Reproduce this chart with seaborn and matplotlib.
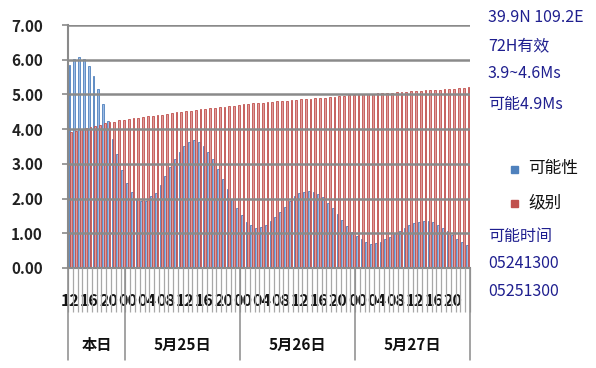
import numpy as np
import pandas as pd
import matplotlib
matplotlib.use("Agg")
import matplotlib.pyplot as plt
import seaborn as sns

# ---------------- data ----------------
days = ['本日', '5月25日', '5月26日', '5月27日']
day_hours = [12, 24, 24, 24]
tick_labels = ['12', '16', '20',
               '00', '04', '08', '12', '16', '20',
               '00', '04', '08', '12', '16', '20',
               '00', '04', '08', '12', '16', '20']
series_names = ['可能性', '级别']

prob = [5.85, 6.02, 6.07, 6.02, 5.83, 5.54, 5.16, 4.73, 4.24, 3.72, 3.28, 2.82, 2.46,
        2.20, 1.99, 1.92, 1.93, 2.06, 2.17, 2.39, 2.65, 2.92, 3.13, 3.35, 3.52, 3.64,
        3.69, 3.64, 3.52, 3.35, 3.13, 2.85, 2.55, 2.27, 1.98, 1.74, 1.52, 1.33,
        1.23, 1.16, 1.17, 1.24, 1.34, 1.48, 1.60, 1.77, 1.92, 2.06, 2.15,
        2.20, 2.22, 2.20, 2.13, 2.05, 1.88, 1.72, 1.55, 1.38, 1.21, 1.05, 0.91,
        0.83, 0.76, 0.70, 0.71, 0.76, 0.83, 0.90, 1.00, 1.07, 1.14, 1.24, 1.29,
        1.33, 1.35, 1.35, 1.32, 1.24, 1.14, 1.07, 0.95, 0.84, 0.74, 0.66]

level = [3.93, 3.95, 3.99, 4.04, 4.07, 4.09, 4.12, 4.17, 4.20, 4.22, 4.25, 4.27, 4.29,
         4.31, 4.33, 4.35, 4.37, 4.39, 4.40, 4.42, 4.44, 4.46, 4.48, 4.50, 4.51, 4.53,
         4.55, 4.57, 4.58, 4.60, 4.61, 4.63, 4.64, 4.66, 4.67, 4.69, 4.71, 4.73,
         4.74, 4.75, 4.76, 4.77, 4.78, 4.80, 4.81, 4.82, 4.83, 4.84, 4.86, 4.87,
         4.88, 4.89, 4.90, 4.91, 4.92, 4.93, 4.95, 4.96, 4.97, 4.98, 5.00,
         5.01, 5.01, 5.02, 5.03, 5.04, 5.05, 5.05, 5.06, 5.07, 5.08, 5.09, 5.10,
         5.11, 5.12, 5.13, 5.13, 5.14, 5.15, 5.16, 5.17, 5.18, 5.19, 5.20]

side_top = ['39.9N 109.2E', '72H有效', '3.9~4.6Ms', '可能4.9Ms']
side_bottom = ['可能时间', '05241300', '05251300']

# ---------------- styling ----------------
sns.set_theme(style='white')
plt.rcParams['font.family'] = ['Noto Sans CJK SC', 'DejaVu Sans']

n = len(prob)
idx = list(range(n))
df = pd.DataFrame({
    'idx': idx * 2,
    'value': prob + level,
    'series': [series_names[0]] * n + [series_names[1]] * n,
})

fig = plt.figure(figsize=(5.96, 3.68), dpi=100)
ax = fig.add_axes([68 / 596, 1 - 268 / 368, (470 - 68) / 596, (268 - 25) / 368])

sns.barplot(data=df, x='idx', y='value', hue='series', order=idx,
            hue_order=series_names,
            palette={series_names[0]: '#9DBBE3', series_names[1]: '#E09C9A'},
            width=0.74, ax=ax, legend=False, saturation=1)
edge = {0: '#4F81BD', 1: '#C0504D'}
for k, cont in enumerate(ax.containers):
    for p in cont:
        p.set_edgecolor(edge[k])
        p.set_linewidth(0.6)

ax.set_ylim(0, 7)
ax.set_xlim(-0.5, n - 0.5)
ax.set_xlabel('')
ax.set_ylabel('')

grid_c = '#8a8a8a'
ax.yaxis.grid(True, color=grid_c, linewidth=1.8)
ax.set_axisbelow(False)
for s in ['top', 'right']:
    ax.spines[s].set_visible(False)
for s in ['left', 'bottom']:
    ax.spines[s].set_color(grid_c)
    ax.spines[s].set_linewidth(1.5)

ax.set_yticks(range(0, 8))
ax.set_yticklabels([f'{v:.2f}' for v in range(0, 8)], fontsize=11, fontweight='bold',
                   color='#222222')
ax.tick_params(axis='y', which='major', length=4, color=grid_c, width=1.2,
               direction='out', pad=14, left=True)

# category ticks
label_pos = list(range(0, n, 4))
ax.set_xticks(label_pos)
ax.set_xticklabels(tick_labels, fontsize=11.5, fontweight='bold', color='#111111')
ax.tick_params(axis='x', which='major', length=0, pad=18, bottom=True)
ax.set_xticks(np.arange(-0.5, n, 1), minor=True)
ax.tick_params(axis='x', which='minor', length=32, color='#a8a8a8', width=0.9,
               direction='out', bottom=True)

# day group separators & labels
trans = ax.get_xaxis_transform()
bounds = np.concatenate([[0], np.cumsum(day_hours)]) - 0.5
for b in bounds:
    ax.plot([b, b], [0, -0.38], transform=trans, color='#8a8a8a', lw=1.1,
            clip_on=False, zorder=5)
for d, a, b in zip(days, bounds[:-1], bounds[1:]):
    ax.text((a + b) / 2, -0.317, d, transform=trans, ha='center', va='center',
            fontsize=11, fontweight='bold', color='#111111')

# right-side annotations
navy = '#1f1f8f'
for t, y in zip(side_top, [18, 46, 74, 104]):
    fig.text(488 / 596, 1 - y / 368, t, ha='left', va='center', fontsize=11.5, color=navy)
for t, y in zip(side_bottom, [236, 264, 292]):
    fig.text(488 / 596, 1 - y / 368, t, ha='left', va='center', fontsize=11.5, color=navy)

# legend
leg_cols = ['#4F81BD', '#C0504D']
for name, c, y in zip(series_names, leg_cols, [169, 203]):
    fig.patches.append(plt.Rectangle((511 / 596, 1 - (y + 4) / 368), 7 / 596, 7 / 368,
                                     transform=fig.transFigure, color=c, figure=fig))
    fig.text(528 / 596, 1 - y / 368, name, ha='left', va='center', fontsize=12, color='#111111')

fig.savefig('out.png', dpi=100)
